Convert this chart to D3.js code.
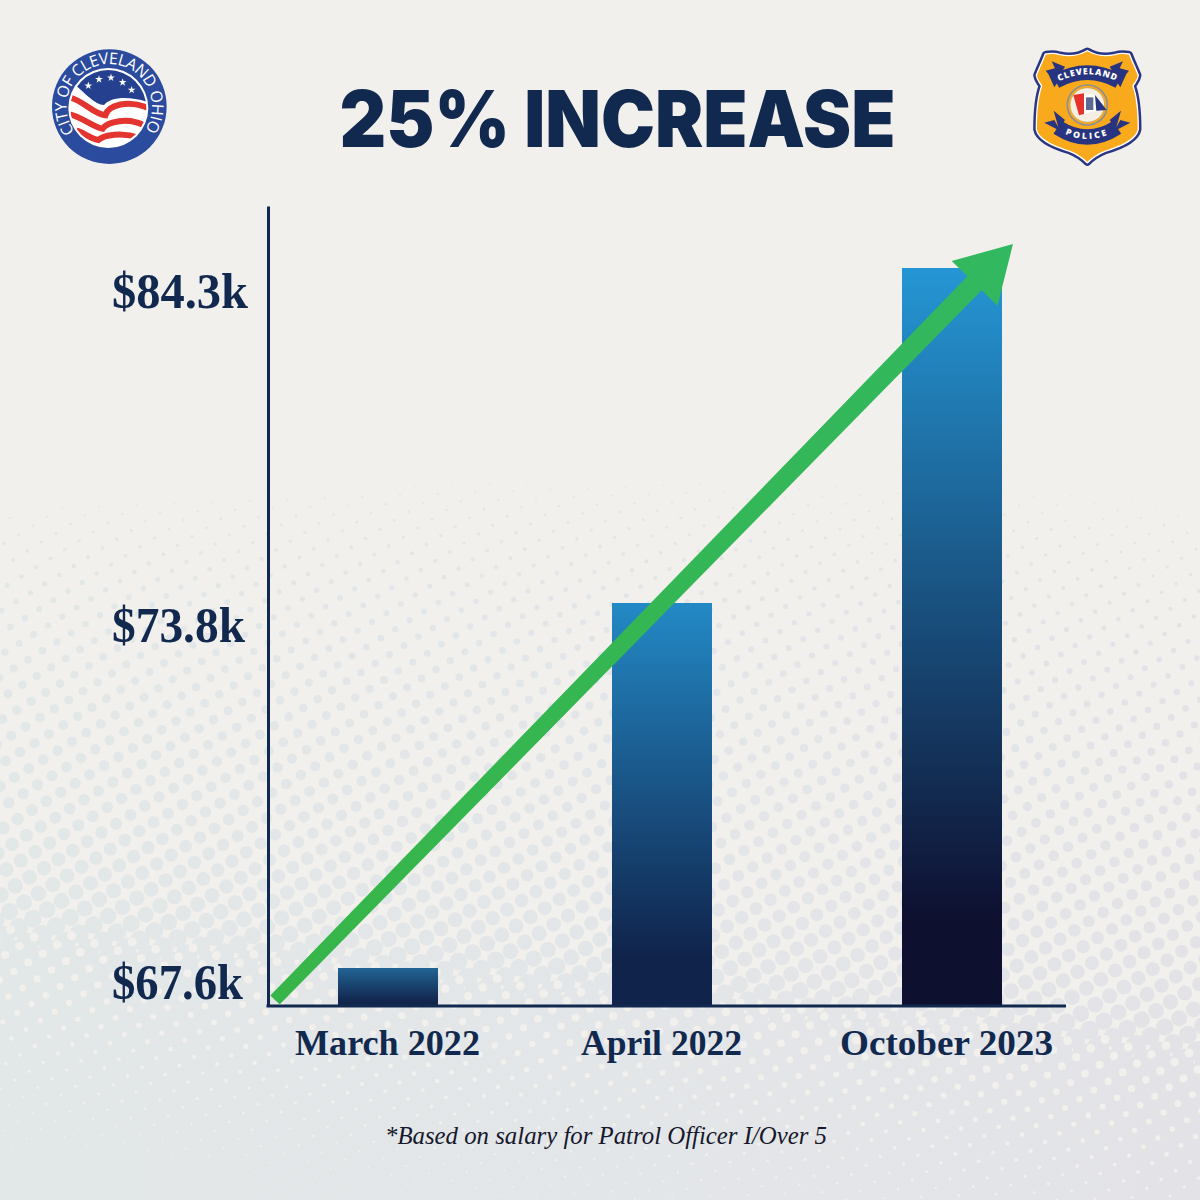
<!DOCTYPE html>
<html><head><meta charset="utf-8">
<script src="https://cdn.jsdelivr.net/npm/d3@7/dist/d3.min.js"></script>
<style>html,body{margin:0;padding:0;background:#f2f0ec}svg{display:block}</style>
</head><body><svg id="c" width="1200" height="1200"></svg>
<script>
const categories = ["March 2022","April 2022","October 2023"];
const salaries = [67.6,73.8,84.3];
const tickLabels = ["$67.6k","$73.8k","$84.3k"];
const axisFloor = 66.4, axisCeil = 86.25;
const title = "25% INCREASE";
const footnote = "*Based on salary for Patrol Officer I/Over 5";
const navy = "#12294f";
const serif = "'Liberation Serif',serif";

const svg = d3.select("#c");
const defs = svg.append("defs");

// scales: the source chart's value axis is not uniform, so it is piecewise
const y = d3.scaleLinear().domain([axisFloor,...salaries,axisCeil]).range([1006,968,603,268,206]);
const yLabel = d3.scaleLinear().domain(salaries).range([999,642,308]);
const yLabelWidth = d3.scaleOrdinal(salaries,[131,133,136]);
const x = d3.scaleOrdinal(categories,[388,662,952]);
const xLabel = d3.scaleOrdinal(categories,[387.5,661.5,946.5]);
const xLabelWidth = d3.scaleOrdinal(categories,[185,161,213]);
const xAxisScale = d3.scaleLinear().domain([0,1]).range([268,1066]);

// background halftone
svg.append("rect").attr("width",1200).attr("height",1200).attr("fill","#f2f0ec");
const dotFill = defs.append("linearGradient").attr("id","dotFill").attr("gradientUnits","userSpaceOnUse")
  .attr("x1",0).attr("x2",1200).attr("y1",0).attr("y2",0);
dotFill.append("stop").attr("offset",0).attr("stop-color","#e2e7e8");
dotFill.append("stop").attr("offset",0.5).attr("stop-color","#e3e6e8");
dotFill.append("stop").attr("offset",1).attr("stop-color","#e3e3e7");
const rad = d3.scaleLinear().domain([450,500,600,700,780,870,960,985,1003,1012]).range([0,1.2,2.7,4,5,6,8,9.5,11.5,13]).clamp(true);
const creamRad = d3.scaleLinear().domain([985,1010,1060,1110,1170,1230]).range([4.5,4.2,3,2,1.1,0.5]).clamp(true);
const lattice=[], cream=[];
const edge=(px,py)=>py-35*Math.pow((px-600)/600,2)*Math.max(0,1-(py-450)/300)+0.1*(600-px)*Math.min(1,Math.max(0,(py-500)/200));
for(let i=-90;i<140;i++)for(let j=-20;j<120;j++){
  const px=i*23.2+j*8.8, py=i*7.5+j*16.4;
  if(px<-40||px>1240||py<420||py>1240)continue;
  const e=edge(px,py), r=rad(e);
  if(r>0.2)lattice.push({px,py,r});
  const cx=px+15.5, cy=py+9.5, ce=edge(cx,cy);
  if(ce>985)cream.push({px:cx,py:cy,r:creamRad(ce)});
}
svg.append("g").attr("fill","url(#dotFill)").selectAll("circle").data(lattice).join("circle")
  .attr("cx",d=>d.px).attr("cy",d=>d.py).attr("r",d=>d.r);
svg.append("g").attr("fill","#f2f0ec").selectAll("circle").data(cream).join("circle")
  .attr("cx",d=>d.px).attr("cy",d=>d.py).attr("r",d=>d.r);

// title
svg.append("text").attr("x",617.5).attr("y",147).attr("text-anchor","middle")
  .attr("font-family","Inter,sans-serif").attr("font-weight",900).attr("font-size",78)
  .attr("textLength",556).attr("lengthAdjust","spacingAndGlyphs").attr("fill",navy).text(title);

// bars
const barStops=[["#216494","#12254d"],["#2389c5","#10234b"],["#2596d4","#0e1030"]];
categories.forEach((c,i)=>{
  const g=defs.append("linearGradient").attr("id","bar"+i).attr("x1",0).attr("x2",0).attr("y1",0).attr("y2",1);
  g.append("stop").attr("offset",0).attr("stop-color",barStops[i][0]);
  g.append("stop").attr("offset",0.88).attr("stop-color",barStops[i][1]);
  g.append("stop").attr("offset",1).attr("stop-color",barStops[i][1]);
});
svg.append("g").selectAll("rect").data(categories).join("rect")
  .attr("x",d=>x(d)-50).attr("width",100)
  .attr("y",(d,i)=>y(salaries[i])).attr("height",(d,i)=>y(axisFloor)-y(salaries[i]))
  .attr("fill",(d,i)=>`url(#bar${i})`);

// axes
const yAxis = d3.axisLeft(y).tickValues(salaries).tickSize(0).tickFormat((d,i)=>tickLabels[i]);
const gy = svg.append("g").attr("transform","translate(268,0)").call(yAxis);
gy.select(".domain").attr("stroke",navy).attr("stroke-width",3);
gy.selectAll(".tick").attr("transform",d=>`translate(0,${yLabel(d)})`);
gy.selectAll("text").attr("x",-156).attr("dy",null).attr("y",0)
  .attr("text-anchor","start").attr("font-family",serif).attr("font-weight",700).attr("font-size",50).attr("fill",navy)
  .attr("textLength",d=>yLabelWidth(d)).attr("lengthAdjust","spacingAndGlyphs");
const gx = svg.append("g").attr("transform","translate(0,1006)");
gx.append("path").attr("d",`M${xAxisScale(0)-1.5},0H${xAxisScale(1)}`).attr("stroke",navy).attr("stroke-width",3).attr("fill","none");
gx.selectAll("text").data(categories).join("text")
  .attr("x",d=>xLabel(d)).attr("y",49).attr("text-anchor","middle")
  .attr("font-family",serif).attr("font-weight",700).attr("font-size",36).attr("fill",navy)
  .attr("textLength",d=>xLabelWidth(d)).attr("lengthAdjust","spacingAndGlyphs").text(d=>d);

// arrow: rises from the axis origin past the tallest bar
const arrowStart=[275,y(axisFloor)-6], arrowTip=[x(categories[2])+61,y(salaries[2])-24];
const dx=arrowTip[0]-arrowStart[0], dy=arrowTip[1]-arrowStart[1], len=Math.hypot(dx,dy);
const ux=dx/len, uy=dy/len, nx=-uy, ny=ux;
const headLen=55, headHalf=32, w0=6.5, w1=10;
const at=(l,o)=>[arrowStart[0]+ux*l+nx*o,arrowStart[1]+uy*l+ny*o];
const arrowPts=[at(0,-w0),at(len-headLen,-w1),at(len-headLen,-headHalf),at(len,0),at(len-headLen,headHalf),at(len-headLen,w1),at(0,w0)];
const ag=defs.append("linearGradient").attr("id","arrow").attr("gradientUnits","userSpaceOnUse")
  .attr("x1",arrowStart[0]).attr("y1",arrowStart[1]).attr("x2",arrowTip[0]).attr("y2",arrowTip[1]);
ag.append("stop").attr("offset",0).attr("stop-color","#37b548");
ag.append("stop").attr("offset",1).attr("stop-color","#32b860");
svg.append("path").attr("d",d3.line()(arrowPts)+"Z").attr("fill","url(#arrow)");

// footnote
svg.append("text").attr("x",606).attr("y",1144).attr("text-anchor","middle")
  .attr("font-family",serif).attr("font-style","italic").attr("font-size",25)
  .attr("textLength",442).attr("lengthAdjust","spacingAndGlyphs").attr("fill","#16182c").text(footnote);

// city seal
const seal=svg.append("g").attr("transform","translate(30,40) scale(0.3333)");
seal.append("circle").attr("cx",238).attr("cy",200).attr("r",172).attr("fill","#2b4b9e");
defs.append("clipPath").attr("id","sealClip").append("circle").attr("cx",235).attr("cy",204).attr("r",114);
seal.append("circle").attr("cx",235).attr("cy",204).attr("r",120).attr("fill","#fff");
const inner=seal.append("g").attr("clip-path","url(#sealClip)");
inner.append("rect").attr("x",100).attr("y",80).attr("width",280).attr("height",250).attr("fill","#fff");
inner.append("path").attr("d","M130,130C165,160 195,195 222,195C240,172 295,165 360,188L360,60L110,60Z").attr("fill","#24408f");
[
 "M118,172C160,182 190,222 226,226C235,195 295,178 355,204",
 "M112,222C150,226 190,262 218,266C232,245 295,230 345,258",
 "M140,272C160,276 180,296 205,300C222,285 275,275 330,294"
].forEach(d=>inner.append("path").attr("d",d).attr("fill","none").attr("stroke","#e3342f").attr("stroke-width",18));
[[175,137],[207,118],[243,113],[278,127],[305,150]].forEach(p=>seal.append("path")
  .attr("transform",`translate(${p[0]},${p[1]})`).attr("d",d3.symbol(d3.symbolStar,170)()).attr("fill","#fff"));
defs.append("path").attr("id","sealArc").attr("d","M134,275A128,128 0 1 1 340,277");
seal.append("text").attr("font-family","'Open Sans',sans-serif").attr("font-size",48).attr("fill","#fff")
  .append("textPath").attr("href","#sealArc").attr("textLength",556).attr("lengthAdjust","spacing").text("CITY OF CLEVELAND OHIO");

// police badge
const badge=svg.append("g").attr("transform","translate(1015,40) scale(0.3333)");
const shape="M217,34C190,50 160,52 135,46C115,40 105,42 92,44C82,70 72,90 66,106C68,122 78,128 82,138C70,170 66,220 66,268C72,300 130,322 165,332C190,342 205,354 217,366C229,354 244,342 269,332C304,322 362,300 368,268C368,220 364,170 352,138C356,128 366,122 368,106C362,90 352,70 342,44C329,42 319,40 299,46C274,52 244,50 217,34Z";
badge.append("path").attr("d",shape).attr("fill","#f8aa1c").attr("stroke","#2a3684").attr("stroke-width",23).attr("stroke-linejoin","round");
badge.append("path").attr("d",shape).attr("fill","#f8aa1c").attr("stroke","#fff").attr("stroke-width",8).attr("stroke-linejoin","round");
badge.append("path").attr("d",shape).attr("fill","#f8aa1c");
const ribbonNavy="#28347f";
[
 "M92,92L122,84L138,112L118,142L100,102Z","M110,64L150,80L132,110Z",
 "M342,92L312,84L296,112L316,142L334,102Z","M324,64L284,80L302,110Z",
 "M88,248L118,240L130,262L116,212L150,240L130,270Z",
 "M346,248L316,240L304,262L318,212L284,240L304,270Z"
].forEach(d=>badge.append("path").attr("d",d).attr("fill",ribbonNavy));
defs.append("path").attr("id","badgeTop").attr("d","M122,124Q217,72 312,124");
defs.append("path").attr("id","badgeBottom").attr("d","M128,262Q217,320 306,262");
badge.append("use").attr("href","#badgeTop").attr("fill","none").attr("stroke",ribbonNavy).attr("stroke-width",44);
badge.append("use").attr("href","#badgeBottom").attr("fill","none").attr("stroke",ribbonNavy).attr("stroke-width",46);
defs.append("path").attr("id","badgeTopT").attr("d","M132,124Q217,82 306,124");
defs.append("path").attr("id","badgeBottomT").attr("d","M150,282Q217,312 284,282");
badge.append("text").attr("font-family","'Open Sans',sans-serif").attr("font-weight",800).attr("font-size",26).attr("fill","#fff")
  .append("textPath").attr("href","#badgeTopT").attr("textLength",176).text("CLEVELAND");
badge.append("text").attr("font-family","'Open Sans',sans-serif").attr("font-weight",800).attr("font-size",26).attr("fill","#fff")
  .append("textPath").attr("href","#badgeBottomT").attr("textLength",130).text("POLICE");
badge.append("circle").attr("cx",217).attr("cy",195).attr("r",60).attr("fill","#f8aa1c").attr("stroke","#8c8f96").attr("stroke-width",5);
badge.append("circle").attr("cx",217).attr("cy",195).attr("r",52).attr("fill","#f4efe2").attr("stroke","#d9a94a").attr("stroke-width",3);
badge.append("path").attr("d","M175,165L207,160L207,222L192,226Z").attr("fill","#e5322c");
badge.append("path").attr("d","M207,160L240,165L244,212L207,222Z").attr("fill","#fff");
badge.append("path").attr("d","M240,165L275,210L244,212Z").attr("fill","#27367f");
badge.append("rect").attr("x",213).attr("y",172).attr("width",22).attr("height",38).attr("fill","#5b6b93");
</script></body></html>
